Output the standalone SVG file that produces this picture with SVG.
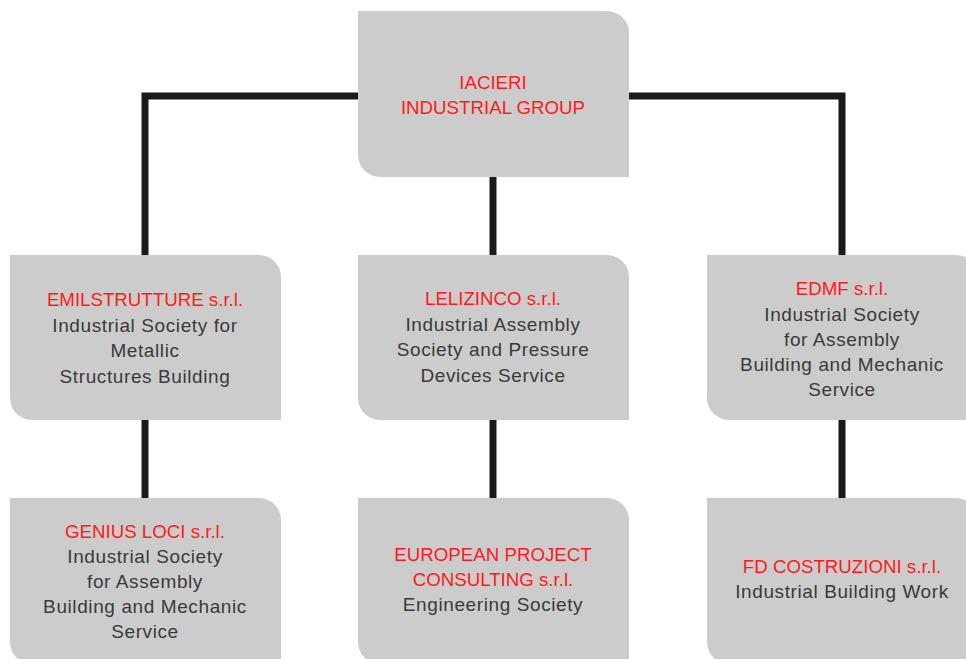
<svg xmlns="http://www.w3.org/2000/svg" width="966" height="659" viewBox="0 0 966 659">
<style>
.box{fill:#cccccc}
.t{font-family:"Liberation Sans",Arial,sans-serif;font-size:19px;text-anchor:middle}
.r{fill:#ff1a1a;font-size:18.7px}
.g{fill:#3a3a3a;letter-spacing:0.6px}
.c{stroke:#1a1a1a;stroke-width:7;fill:none}
</style>
<rect width="966" height="659" fill="#ffffff"/>
<g id="connectors">
<polyline class="c" points="358,96 145,96 145,255"/>
<polyline class="c" points="629,96 842,96 842,255"/>
<line class="c" x1="493" y1="177" x2="493" y2="255"/>
<line class="c" x1="145" y1="420" x2="145" y2="498"/>
<line class="c" x1="493" y1="420" x2="493" y2="498"/>
<line class="c" x1="842" y1="420" x2="842" y2="498"/>
</g>
<g id="iacieri">
<path class="box" d="M358 11 H607 A22 22 0 0 1 629 33 V177 H380 A22 22 0 0 1 358 155 Z"/>
<text class="t r" x="493" y="89">IACIERI</text>
<text class="t r" x="493" y="114">INDUSTRIAL GROUP</text>
</g>
<g id="emilstrutture">
<path class="box" d="M10 255 H259 A22 22 0 0 1 281 277 V420 H32 A22 22 0 0 1 10 398 Z"/>
<text class="t r" x="145" y="306">EMILSTRUTTURE s.r.l.</text>
<text class="t g" x="145" y="332">Industrial Society for</text>
<text class="t g" x="145" y="357">Metallic</text>
<text class="t g" x="145" y="383">Structures Building</text>
</g>
<g id="lelizinco">
<path class="box" d="M358 255 H607 A22 22 0 0 1 629 277 V420 H380 A22 22 0 0 1 358 398 Z"/>
<text class="t r" x="493" y="305">LELIZINCO s.r.l.</text>
<text class="t g" x="493" y="331">Industrial Assembly</text>
<text class="t g" x="493" y="356">Society and Pressure</text>
<text class="t g" x="493" y="382">Devices Service</text>
</g>
<g id="edmf">
<path class="box" d="M707 255 H956 A22 22 0 0 1 978 277 V420 H729 A22 22 0 0 1 707 398 Z"/>
<text class="t r" x="842" y="295">EDMF s.r.l.</text>
<text class="t g" x="842" y="321">Industrial Society</text>
<text class="t g" x="842" y="346">for Assembly</text>
<text class="t g" x="842" y="371">Building and Mechanic</text>
<text class="t g" x="842" y="396">Service</text>
</g>
<g id="genius-loci">
<path class="box" d="M10 498 H259 A22 22 0 0 1 281 520 V664 H32 A22 22 0 0 1 10 642 Z"/>
<text class="t r" x="145" y="538">GENIUS LOCI s.r.l.</text>
<text class="t g" x="145" y="563">Industrial Society</text>
<text class="t g" x="145" y="588">for Assembly</text>
<text class="t g" x="145" y="613">Building and Mechanic</text>
<text class="t g" x="145" y="638">Service</text>
</g>
<g id="european-project">
<path class="box" d="M358 498 H607 A22 22 0 0 1 629 520 V664 H380 A22 22 0 0 1 358 642 Z"/>
<text class="t r" x="493" y="561">EUROPEAN PROJECT</text>
<text class="t r" x="493" y="586">CONSULTING s.r.l.</text>
<text class="t g" x="493" y="611">Engineering Society</text>
</g>
<g id="fd-costruzioni">
<path class="box" d="M707 498 H956 A22 22 0 0 1 978 520 V664 H729 A22 22 0 0 1 707 642 Z"/>
<text class="t r" x="842" y="573">FD COSTRUZIONI s.r.l.</text>
<text class="t g" x="842" y="598">Industrial Building Work</text>
</g>
</svg>
